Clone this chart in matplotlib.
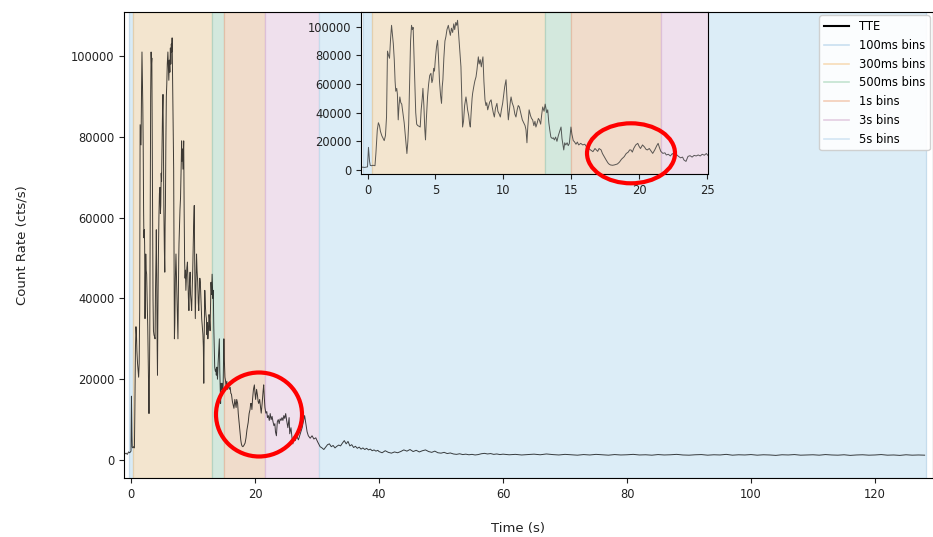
import numpy as np
import matplotlib
matplotlib.use("Agg")
import matplotlib.pyplot as plt
from matplotlib.lines import Line2D
from matplotlib.patches import Ellipse

# --------------------
# light curve (time in s, rate in cts/s)

burst_points = [
    (-1.0, 1500), (-0.8, 1700), (-0.6, 1400), (-0.4, 2000), (-0.2, 1800), (0.0, 2200),
    (0.07, 15800), (0.15, 6000), (0.2, 3200), (0.3, 3000), (0.4, 3300), (0.55, 3000),
    (0.62, 12000), (0.72, 28000), (0.8, 33000), (0.88, 31000), (0.95, 27000), (1.05, 24000),
    (1.15, 22000), (1.23, 20500), (1.32, 24000), (1.4, 37000), (1.47, 83000), (1.55, 80000),
    (1.62, 78000), (1.7, 92000), (1.77, 101000), (1.83, 95000), (1.9, 88000), (1.97, 77000),
    (2.03, 62000), (2.08, 55000), (2.15, 57000), (2.2, 53000), (2.26, 35000), (2.32, 45000),
    (2.38, 51000), (2.45, 47000), (2.52, 46000), (2.6, 40000), (2.7, 33000), (2.8, 22000),
    (2.9, 11500), (2.97, 20000), (3.03, 32000), (3.1, 60000), (3.17, 90000), (3.24, 101000),
    (3.3, 98000), (3.36, 99500), (3.42, 80000), (3.48, 60000), (3.55, 40000), (3.62, 32000),
    (3.7, 31000), (3.8, 30500), (3.88, 30000), (3.95, 42000), (4.03, 50000), (4.08, 57000),
    (4.15, 45000), (4.22, 28000), (4.27, 21000), (4.33, 35000), (4.42, 51000), (4.5, 60000),
    (4.58, 66000), (4.67, 67500), (4.74, 61000), (4.8, 63000), (4.87, 71000), (4.93, 69000),
    (5.0, 78000), (5.08, 86000), (5.16, 90500), (5.22, 80000), (5.3, 62000), (5.38, 52000),
    (5.45, 46500), (5.5, 58000), (5.55, 63000), (5.62, 78000), (5.7, 90000), (5.77, 93000),
    (5.85, 98000), (5.95, 101000), (6.03, 97000), (6.1, 94000), (6.18, 99000), (6.27, 96000),
    (6.35, 102000), (6.42, 98000), (6.5, 103000), (6.57, 101000), (6.63, 104500), (6.7, 96000),
    (6.78, 85000), (6.88, 72000), (6.94, 52000), (7.0, 30000), (7.07, 34000), (7.15, 45000),
    (7.25, 51000), (7.31, 47000), (7.37, 42000), (7.45, 38000), (7.52, 32000), (7.57, 30000),
    (7.63, 40000), (7.7, 50000), (7.74, 53500), (7.82, 58000), (7.9, 62000), (7.99, 65000),
    (8.06, 70000), (8.12, 75000), (8.16, 79000), (8.22, 74000), (8.3, 77000), (8.38, 72000),
    (8.44, 76000), (8.5, 79000), (8.57, 62000), (8.65, 49000), (8.72, 45000), (8.78, 47000),
    (8.85, 42000), (8.93, 45000), (9.0, 47500), (9.1, 49000), (9.18, 44000), (9.26, 40000),
    (9.34, 37000), (9.42, 43000), (9.53, 46500), (9.6, 41000), (9.7, 39000), (9.78, 37000),
    (9.86, 42000), (9.95, 46500), (10.02, 52000), (10.1, 58000), (10.2, 63000), (10.27, 50000),
    (10.37, 35000), (10.45, 42000), (10.52, 48000), (10.57, 51000), (10.65, 47000), (10.76, 44000),
    (10.85, 39000), (10.93, 37000), (11.02, 42000), (11.1, 45000), (11.18, 44000), (11.28, 40000),
    (11.4, 35000), (11.5, 33000), (11.6, 31000), (11.67, 28000), (11.74, 19000), (11.8, 30000),
    (11.9, 42000), (12.0, 38000), (12.08, 36000), (12.16, 35000), (12.25, 31000), (12.33, 34000),
    (12.4, 30000), (12.5, 33000), (12.58, 36000), (12.65, 35000), (12.75, 32000), (12.83, 39000),
    (12.9, 44000), (13.0, 41000), (13.08, 46000), (13.14, 43000), (13.2, 40000), (13.27, 42000),
    (13.35, 33000), (13.42, 28000), (13.5, 23000), (13.6, 22000), (13.68, 22500), (13.76, 21000),
    (13.85, 23000), (13.95, 20000), (14.05, 24000), (14.15, 27000), (14.25, 30000), (14.32, 22000),
    (14.4, 17000), (14.45, 14000), (14.52, 19000), (14.6, 17500), (14.7, 19000), (14.78, 17000),
    (14.86, 18500), (14.92, 24000), (14.98, 30000), (15.05, 25000), (15.15, 20500), (15.23, 19800),
    (15.35, 18000), (15.45, 19500), (15.55, 17500), (15.7, 18600), (15.85, 17500), (16.0, 18000),
    (16.1, 16500), (16.2, 16300), (16.35, 14500), (16.5, 13500), (16.6, 12800), (16.75, 15000),
    (16.85, 14000), (16.95, 13000), (17.05, 15000), (17.2, 14000), (17.3, 11500), (17.45, 9000),
    (17.57, 7000), (17.7, 5000), (17.8, 4000), (17.9, 3500), (18.05, 3300), (18.2, 3600),
    (18.4, 4200), (18.55, 5500), (18.7, 7500), (18.9, 9300), (19.05, 11500), (19.2, 12500),
    (19.3, 14000), (19.4, 14000), (19.5, 12500), (19.6, 15000), (19.75, 17500), (19.9, 18600),
    (20.0, 16500), (20.1, 15000), (20.25, 17500), (20.4, 16000), (20.5, 14500), (20.6, 14000),
    (20.75, 15000), (20.9, 13000), (21.0, 11600), (21.15, 14000), (21.3, 17000), (21.4, 18600),
    (21.5, 15500), (21.6, 13000), (21.75, 11600), (21.9, 12000), (22.0, 10500), (22.15, 11000),
    (22.3, 9800), (22.45, 11500), (22.6, 10000), (22.75, 10800), (22.9, 9500), (23.05, 8500),
    (23.2, 9000), (23.3, 7000), (23.45, 6000), (23.6, 9500), (23.75, 10000), (23.9, 9000),
    (24.05, 10200), (24.2, 9800), (24.35, 10500), (24.5, 9800), (24.65, 11000), (24.8, 10300),
    (24.95, 11500), (25.1, 9800), (25.3, 8000), (25.5, 10500), (25.6, 6500), (25.8, 8000),
    (26.0, 5000), (26.1, 4000), (26.3, 5500), (26.5, 4800), (26.7, 6000), (27.0, 5000),
    (27.3, 6500), (27.6, 8000), (27.8, 9500), (28.0, 11000), (28.2, 9000), (28.4, 7000),
    (28.6, 6000), (28.9, 5400), (29.2, 6000), (29.5, 5200), (29.8, 5500), (30.1, 4500),
    (30.5, 3300), (30.8, 3000), (31.1, 2600), (31.4, 3200), (31.7, 3800), (32.0, 4000),
    (32.3, 3300), (32.6, 3600), (32.9, 3000), (33.2, 3400), (33.5, 3700), (33.8, 3500),
    (34.1, 4200), (34.4, 4800), (34.7, 4000), (35.0, 4600), (35.3, 3500), (35.6, 3800),
    (35.9, 3100), (36.2, 3400), (36.5, 2900), (36.8, 3200), (37.1, 2700), (37.4, 3000),
    (37.7, 2600), (38.0, 2900), (38.3, 2500), (38.6, 2700), (38.9, 2300), (39.2, 2500),
    (39.5, 2200), (39.8, 2400),
]

decay_t = np.arange(40.0, 60.01, 0.5)
decay_rate = [2100, 1800, 2300, 1900, 1700, 2000, 1800, 2100, 2500, 2200,
              2600, 2100, 2400, 2000, 2300, 2500, 2100, 1900, 2200, 1800,
              1700, 1900, 1600, 1750, 1500, 1400, 1550, 1350, 1450, 1300,
              1400, 1250, 1350, 1550, 1650, 1500, 1600, 1400, 1500, 1350,
              1450]

tail_t = np.arange(61.0, 128.01, 1.0)
tail_rate = [1300, 1400, 1250, 1350, 1450, 1300, 1500, 1350, 1250, 1400,
             1300, 1200, 1350, 1250, 1400, 1300, 1200, 1350, 1250, 1300,
             1400, 1250, 1300, 1200, 1350, 1250, 1300, 1400, 1250, 1200,
             1300, 1350, 1200, 1300, 1250, 1400, 1200, 1300, 1250, 1350,
             1200, 1300, 1250, 1150, 1300, 1250, 1350, 1200, 1250, 1300,
             1200, 1350, 1250, 1200, 1300, 1150, 1250, 1300, 1200, 1250,
             1350, 1200, 1250, 1150, 1300, 1200, 1250, 1200]

# binning intervals (start, end) in s
bin_labels = ["100ms bins", "300ms bins", "500ms bins", "1s bins", "3s bins", "5s bins"]
bin_edges = [(-0.3, 0.35), (0.35, 13.1), (13.1, 15.0), (15.0, 21.6), (21.6, 30.4), (30.4, 128.3)]
bin_faces = ["#d9ebf6", "#f3e5cf", "#d3e8dd", "#f0dccb", "#efe0ed", "#dcedf7"]
bin_edgecols = ["#c5dcec", "#e3cfae", "#b5d3c2", "#e2bfa8", "#dcbfd8", "#c5dcec"]
legend_cols = ["#c9dff0", "#f7dcb8", "#c3e3d0", "#f3cdb8", "#e4cde2", "#d3e6f4"]

# --------------------

bt, br = np.array(burst_points).T
time = np.concatenate([bt, decay_t, tail_t])
rate = np.concatenate([br, decay_rate, tail_rate])

W, H = 933, 537
fig = plt.figure(figsize = (W / 100, H / 100), dpi = 100)
ax = fig.add_axes([124 / W, 1 - 478 / H, (933 - 124) / W, (478 - 12) / H])

def draw_bins(a):
    for (t0, t1), fc, ec in zip(bin_edges, bin_faces, bin_edgecols):
        a.axvspan(t0, t1, facecolor = fc, edgecolor = ec, linewidth = 0.9, zorder = 0)

draw_bins(ax)
ax.plot(time, rate, color = "black", linewidth = 0.7, alpha = 0.75, zorder = 2)
ax.set_xlim(-1.13, 129.35)
ax.set_ylim(-4450, 110900)
ax.set_xticks(np.arange(0, 121, 20))
ax.set_yticks(np.arange(0, 100001, 20000))
ax.tick_params(labelsize = 8.3, colors = "#222222")
ax.set_xlabel("Time (s)", fontsize = 9.5, color = "#222222")
ax.set_ylabel("Count Rate (cts/s)", fontsize = 9.5, color = "#222222")
ax.xaxis.set_label_coords(0.487, -0.095)
ax.yaxis.set_label_coords(-0.118, 0.5)

handles = [Line2D([], [], color = "black", linewidth = 1.5, label = "TTE")]
for lab, col in zip(bin_labels, legend_cols):
    handles.append(Line2D([], [], color = col, linewidth = 1.2, label = lab))
ax.legend(handles = handles, loc = "upper right", fontsize = 8.3, framealpha = 0.9,
          borderaxespad = 0.3, handlelength = 2.2)

# zoomed inset of the first 25 s
axin = fig.add_axes([361 / W, 1 - 174.3 / H, (707.7 - 361) / W, (174.3 - 12) / H])
axin.set_facecolor("white")
draw_bins(axin)
axin.plot(time, rate, color = "#333333", linewidth = 0.7, alpha = 0.8, zorder = 2)
axin.set_xlim(-0.48, 25.05)
axin.set_ylim(-3000, 110300)
axin.set_xticks(np.arange(0, 26, 5))
axin.set_yticks(np.arange(0, 100001, 20000))
axin.tick_params(labelsize = 8.3, colors = "#222222")

# red highlight circles
fig.add_artist(Ellipse((259 / W, 1 - 414.5 / H), 86 / W, 84 / H, transform = fig.transFigure,
                       fill = False, edgecolor = "red", linewidth = 3, zorder = 10))
fig.add_artist(Ellipse((631 / W, 1 - 153.3 / H), 88 / W, 60 / H, transform = fig.transFigure,
                       fill = False, edgecolor = "red", linewidth = 3, zorder = 10))

plt.savefig("out.png", dpi = 100)
